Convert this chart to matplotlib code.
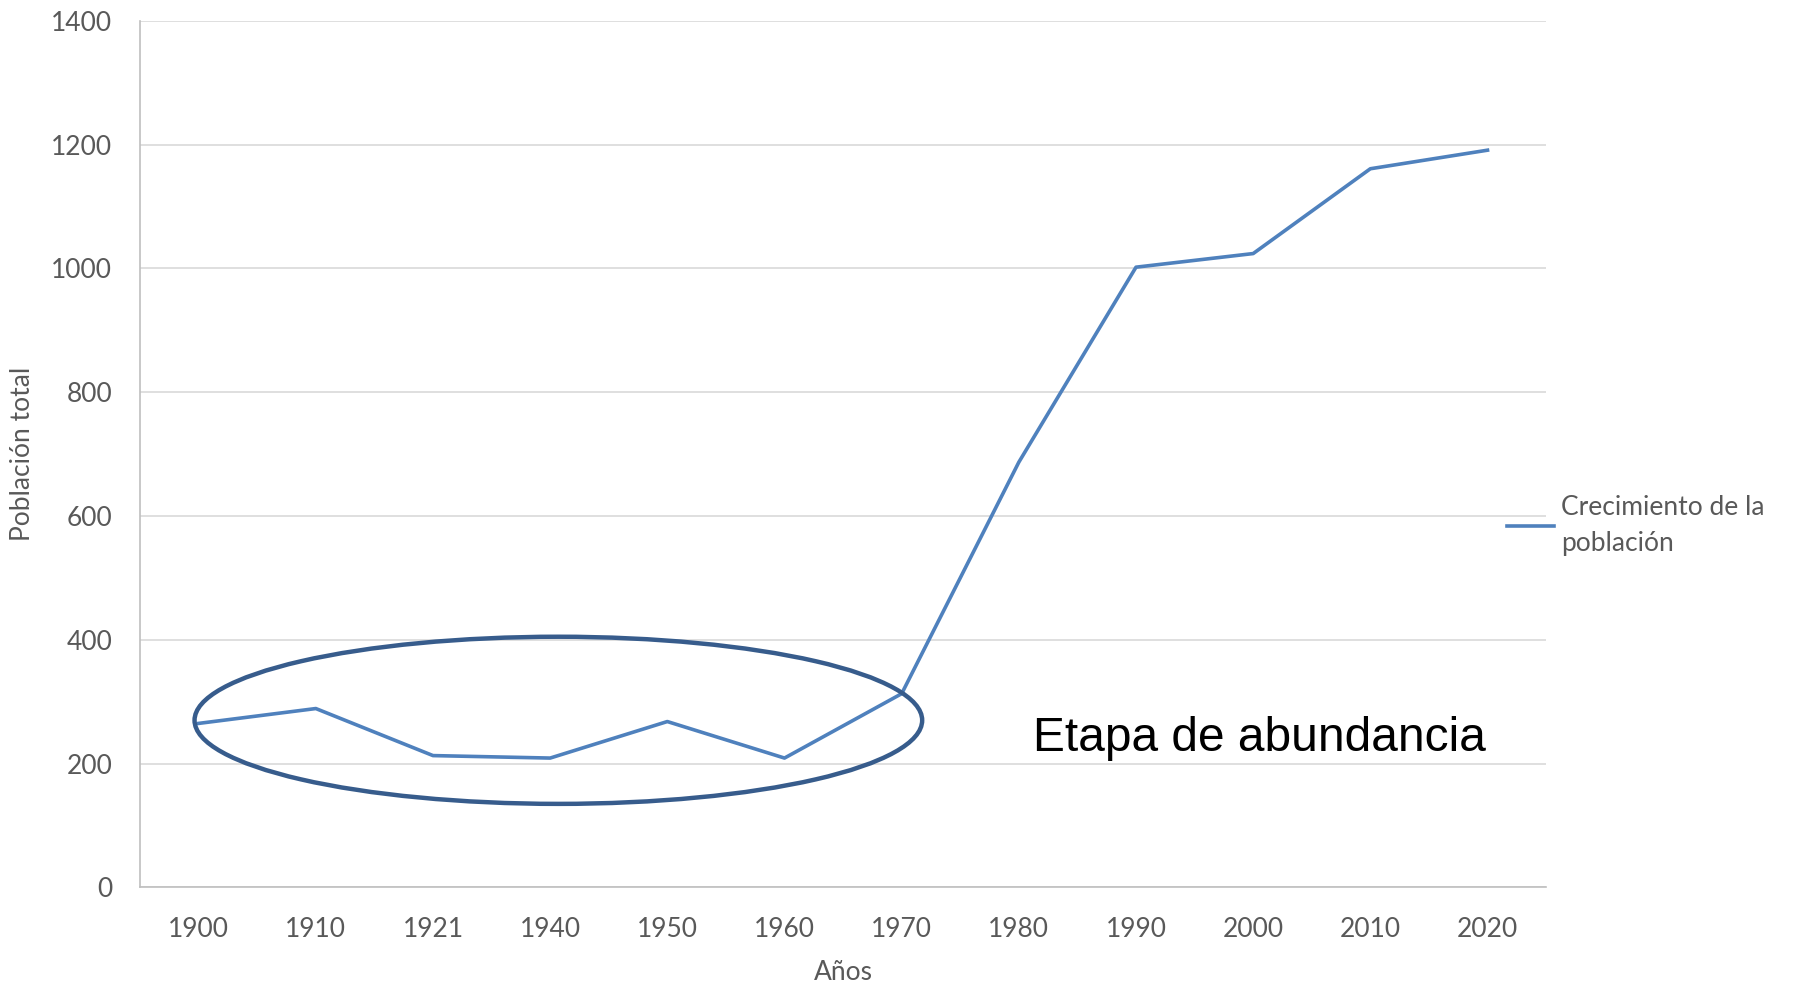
import matplotlib.pyplot as plt
from matplotlib.patches import Ellipse

# Datos
anios = ["1900", "1910", "1921", "1940", "1950", "1960", "1970",
         "1980", "1990", "2000", "2010", "2020"]
poblacion = [265, 289, 213, 209, 268, 209, 313, 687, 1002, 1024, 1161, 1191]
yticks = [0, 200, 400, 600, 800, 1000, 1200, 1400]

plt.rcParams['font.family'] = ['Lato', 'DejaVu Sans']
gris = '#595959'

fig = plt.figure(figsize=(17.98, 9.91), dpi=100)
ax = fig.add_axes([0.0779, 0.1045, 0.782, 0.8745])

x = list(range(len(anios)))
ax.plot(x, poblacion, color='#4F81BD', linewidth=2.6,
        label="Crecimiento de la\npoblación")

ax.set_xlim(-0.5, len(anios) - 0.5)
ax.set_ylim(0, 1400)
ax.set_xticks(x)
ax.set_xticklabels(anios)
ax.set_yticks(yticks)
ax.tick_params(axis='both', length=0, labelsize=19, labelcolor=gris)
ax.tick_params(axis='x', pad=21)
ax.tick_params(axis='y', pad=20)
ax.grid(axis='y', color='#D9D9D9', linewidth=1.2)
ax.set_axisbelow(True)
for s in ['top', 'right']:
    ax.spines[s].set_visible(False)
for s in ['left', 'bottom']:
    ax.spines[s].set_color('#BFBFBF')
    ax.spines[s].set_linewidth(1.2)

ax.set_xlabel("Años", fontsize=19, color=gris)
ax.xaxis.set_label_coords(0.5, -0.084)
ax.set_ylabel("Población total", fontsize=19, color=gris)
ax.yaxis.set_label_coords(-0.075, 0.5)

# elipse de la etapa de abundancia
elipse = Ellipse((3.07, 270), width=6.21, height=270, fill=False,
                 edgecolor='#375C8C', linewidth=3.2, zorder=3)
ax.add_patch(elipse)
ax.text(7.12, 241, "Etapa de abundancia", fontsize=34.5, color='black',
        family='Liberation Sans', va='center', ha='left')

leg = ax.legend(loc='center left', bbox_to_anchor=(0.972, 0.418), frameon=False,
                fontsize=19, labelcolor=gris, handlelength=1.8, handletextpad=0.25,
                borderaxespad=0, borderpad=0)
for t in leg.get_texts():
    t.set_linespacing(1.55)

fig.savefig("out.png", dpi=100)
